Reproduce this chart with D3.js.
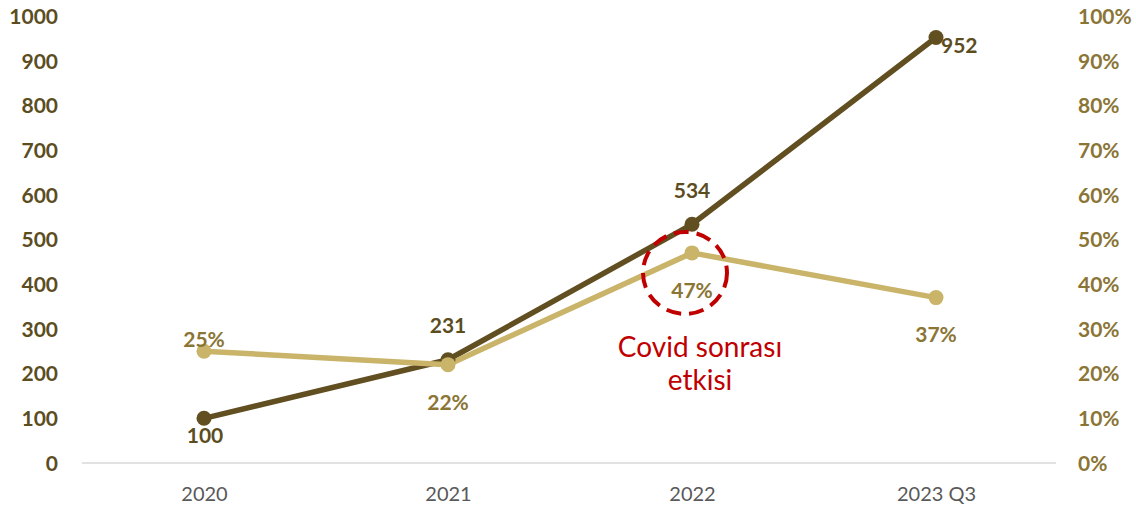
<!DOCTYPE html>
<meta charset="utf-8">
<html>
<head>
  <script src="https://d3js.org/d3.v7.min.js"></script>
  <style>
    body { margin: 0; background: #fff; font-family: Lato, "Open Sans", sans-serif; }
    svg { display: block; }
    .lbl { font-family: Lato, "Open Sans", sans-serif; font-weight: 700; font-size: 21px; }
  </style>
</head>
<body>
<div id="chart"></div>
<script>
// data
var categories = ["2020", "2021", "2022", "2023 Q3"];
var volume = [100, 231, 534, 952];      // left axis
var share = [0.25, 0.22, 0.47, 0.37];    // right axis
var leftTicks = [0, 100, 200, 300, 400, 500, 600, 700, 800, 900, 1000];
var rightTicks = [0, 0.1, 0.2, 0.3, 0.4, 0.5, 0.6, 0.7, 0.8, 0.9, 1.0];
var note = ["Covid sonrası", "etkisi"];

var width = 1136, height = 507;
var darkCol = "#614f21", lightCol = "#c9b46a";
var darkText = "#5c4d1f", lightText = "#8a7535";

var svg = d3.select("#chart").append("svg")
  .attr("width", width).attr("height", height);

var x = d3.scalePoint().domain(categories).range([82, 1058]).padding(0.5);
var yL = d3.scaleLinear().domain([0, 1000]).range([463, 16]);
var yR = d3.scaleLinear().domain([0, 1]).range([463, 16]);

// baseline grid
svg.append("line")
  .attr("x1", 82).attr("x2", 1056)
  .attr("y1", yL(0)).attr("y2", yL(0))
  .attr("stroke", "#d9d9d9").attr("stroke-width", 1.5);

// left axis
var axL = svg.append("g").attr("transform", "translate(58,0)")
  .call(d3.axisLeft(yL).tickValues(leftTicks).tickSize(0).tickPadding(0).tickFormat(d3.format("d")));
axL.select(".domain").remove();
axL.selectAll("text").attr("class", "lbl").attr("fill", darkText).attr("dy", "0.35em");

// right axis
var axR = svg.append("g").attr("transform", "translate(1078,0)")
  .call(d3.axisRight(yR).tickValues(rightTicks).tickSize(0).tickPadding(0).tickFormat(d3.format(".0%")));
axR.select(".domain").remove();
axR.selectAll("text").attr("class", "lbl").attr("fill", lightText).attr("dy", "0.35em");

// category axis
var axB = svg.append("g").attr("transform", "translate(0," + yL(0) + ")")
  .call(d3.axisBottom(x).tickSize(0).tickPadding(24));
axB.select(".domain").remove();
axB.selectAll("text").attr("font-size", "20px").attr("font-family", "Lato, sans-serif").attr("fill", "#595959");

// volume line
svg.append("path").datum(volume)
  .attr("fill", "none").attr("stroke", darkCol).attr("stroke-width", 5.5)
  .attr("stroke-linejoin", "round")
  .attr("d", d3.line().x(function(d, i) { return x(categories[i]); }).y(function(d) { return yL(d); }));

// share line
svg.append("path").datum(share)
  .attr("fill", "none").attr("stroke", lightCol).attr("stroke-width", 5.5)
  .attr("stroke-linejoin", "round")
  .attr("d", d3.line().x(function(d, i) { return x(categories[i]); }).y(function(d) { return yR(d); }));

svg.selectAll(".dotV").data(volume).enter().append("circle")
  .attr("cx", function(d, i) { return x(categories[i]); })
  .attr("cy", function(d) { return yL(d); })
  .attr("r", 7.5).attr("fill", darkCol);

svg.selectAll(".dotS").data(share).enter().append("circle")
  .attr("cx", function(d, i) { return x(categories[i]); })
  .attr("cy", function(d) { return yR(d); })
  .attr("r", 7.5).attr("fill", lightCol);

// data labels (offsets: dx, dy, anchor)
var vPos = [[1, 25, "middle"], [0, -27, "middle"], [0, -26, "middle"], [5, 16, "start"]];
svg.selectAll(".vl").data(volume).enter().append("text")
  .attr("class", "lbl").attr("fill", darkText)
  .attr("x", function(d, i) { return x(categories[i]) + vPos[i][0]; })
  .attr("y", function(d, i) { return yL(d) + vPos[i][1]; })
  .attr("text-anchor", function(d, i) { return vPos[i][2]; })
  .text(function(d) { return d; });

var sPos = [[0, -4], [0, 45], [0, 45], [0, 44]];
svg.selectAll(".sl").data(share).enter().append("text")
  .attr("class", "lbl").attr("fill", lightText)
  .attr("x", function(d, i) { return x(categories[i]) + sPos[i][0]; })
  .attr("y", function(d, i) { return yR(d) + sPos[i][1]; })
  .attr("text-anchor", "middle")
  .text(function(d) { return d3.format(".0%")(d); });

// covid highlight
svg.append("ellipse")
  .attr("cx", x("2022") - 7).attr("cy", yR(0.47) + 20)
  .attr("rx", 42).attr("ry", 41)
  .attr("fill", "none").attr("stroke", "#c00000").attr("stroke-width", 4)
  .attr("stroke-dasharray", "15,8");

svg.selectAll(".note").data(note).enter().append("text")
  .attr("x", 700).attr("y", function(d, i) { return 357 + i * 33; })
  .attr("text-anchor", "middle").attr("fill", "#c00000")
  .attr("font-size", "28px")
  .text(function(d) { return d; });
</script>
</body>
</html>
